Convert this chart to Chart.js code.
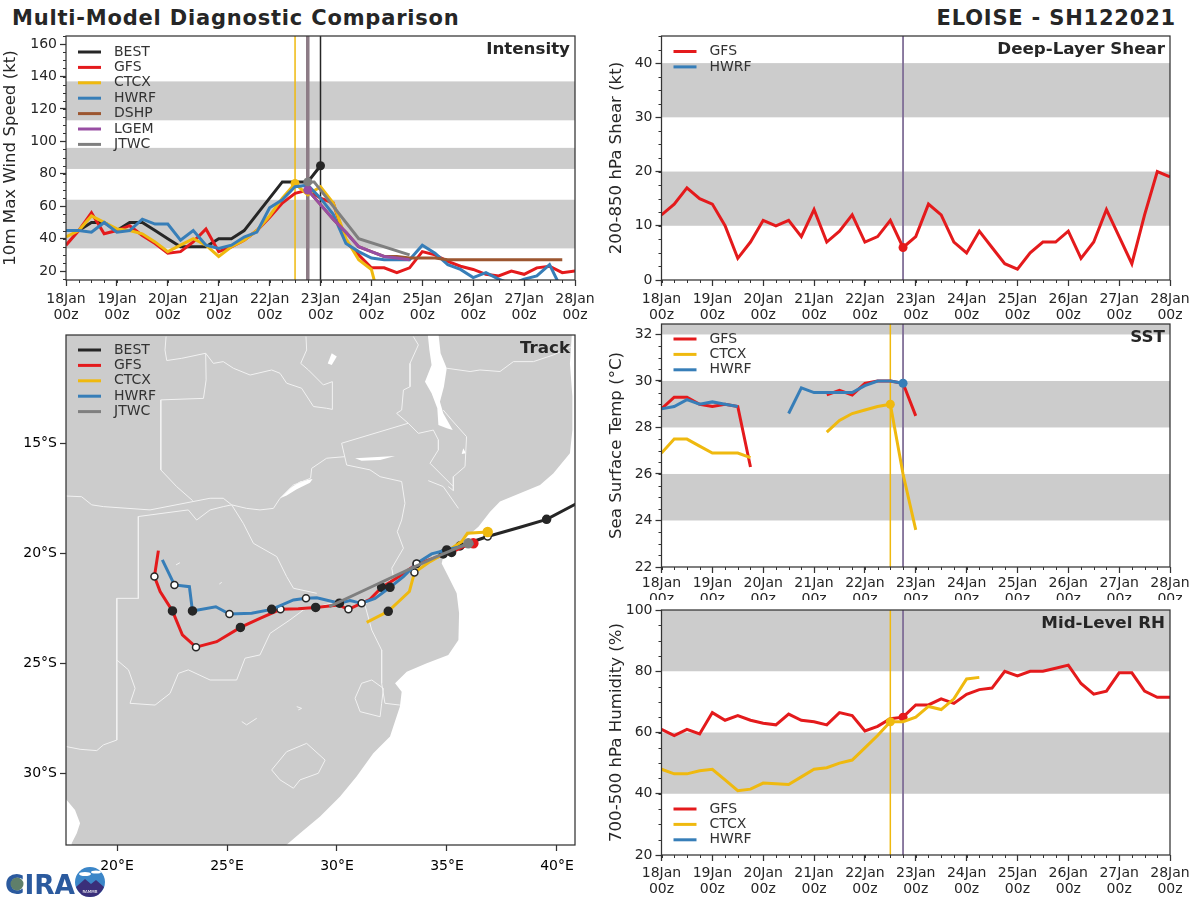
<!DOCTYPE html>
<html>
<head>
<meta charset="utf-8">
<title>ELOISE - SH122021</title>
<script src="https://cdn.jsdelivr.net/npm/chart.js@4"></script>
<style>
    html, body { margin: 0; padding: 0; background: #fff; }
    body { position: relative; width: 1200px; height: 900px; overflow: hidden; font-family: "DejaVu Sans", sans-serif; color: #262626; }
    canvas { position: absolute; }
    .head { position: absolute; top: 6px; font-size: 21px; font-weight: bold; letter-spacing: 0.8px; white-space: nowrap; }
    #logo { position: absolute; left: 0; top: 860px; }
</style>
</head>
<body>
<div class="head" style="left:12px">Multi-Model Diagnostic Comparison</div>
<div class="head" style="right:24px">ELOISE - SH122021</div>
<canvas id="intensityChart" width="610" height="305" style="left:0;top:20px"></canvas>
<canvas id="shearChart" width="600" height="305" style="left:600px;top:20px"></canvas>
<canvas id="trackChart" width="610" height="560" style="left:0;top:320px"></canvas>
<canvas id="sstChart" width="600" height="290" style="left:600px;top:310px"></canvas>
<canvas id="rhChart" width="600" height="305" style="left:600px;top:595px"></canvas>
<svg id="logo" width="110" height="40" viewBox="0 0 110 40">
    <text x="5" y="34" font-family="DejaVu Sans" font-weight="bold" font-size="27" fill="#2b5a9e" textLength="70" lengthAdjust="spacingAndGlyphs">CIRA</text>
    <circle cx="17" cy="24" r="6.5" fill="#5f7f6a"/>
    <circle cx="90" cy="22" r="15" fill="#3b86c8"/>
    <ellipse cx="85" cy="14" rx="6" ry="2" fill="#fff"/>
    <ellipse cx="96" cy="12" rx="5" ry="1.6" fill="#fff"/>
    <path d="M76 27 L85 19 L91 24 L96 20 L104 27 Q100 37 90 37 Q80 37 76 27 Z" fill="#3a2f7a"/>
    <text x="90" y="33" font-family="DejaVu Sans" font-size="4" fill="#fff" text-anchor="middle">RAMMB</text>
</svg>
<script>
// hours since 18Jan 00z, every 6 hours
const hours = [0, 6, 12, 18, 24, 30, 36, 42, 48, 54, 60, 66, 72, 78, 84, 90, 96, 102, 108, 114, 120,
    126, 132, 138, 144, 150, 156, 162, 168, 174, 180, 186, 192, 198, 204, 210, 216, 222, 228, 234, 240];
const dayTicks = [0, 24, 48, 72, 96, 120, 144, 168, 192, 216, 240];
const dayLabels = ['18Jan', '19Jan', '20Jan', '21Jan', '22Jan', '23Jan', '24Jan', '25Jan', '26Jan', '27Jan', '28Jan'];
const sixHourTicks = hours;

// Intensity (kt)
const bestIntensity = [45, 45, 50, 50, 45, 50, 50, 45, 40, 35, 35, 35, 40, 40, 45, 55, 65, 75, 75, 75, 85];
const gfsIntensity = [36, 45, 56, 43, 45, 48, 42, 37, 31, 32, 38, 46, 32, 35, 39, 45, 53, 62, 68, 70, 65,
    62, 38, 30, 22, 22, 19, 22, 32, 30, 26, 23, 21, 18, 17, 20, 18, 22, 23, 19, 20];
const ctcxIntensity = [41, 45, 54, 50, 46, 45, 43, 38, 32, 36, 40, 36, 29, 35, 39, 45, 54, 65, 74, 67, 72, 62, 40, 27, 21, -9];
const hwrfIntensity = [45, 45, 44, 50, 44, 45, 52, 49, 49, 39, 45, 36, 34, 36, 41, 44, 59, 64, 72, 73, 65,
    55, 37, 32, 28, 27, 27, 27, 36, 31, 24, 21, 16, 19, 15, 12, 15, 17, 24, 8];
const dshpHours = [114, 120, 126, 132, 138, 144, 150, 156, 162, 168, 174, 180, 186, 192, 198, 204, 210, 216, 222, 228, 234];
const dshpIntensity = [70, 61, 52, 44, 35, 32, 29, 29, 28, 28, 28, 27, 27, 27, 27, 27, 27, 27, 27, 27, 27];
const lgemHours = [114, 120, 126, 132, 138, 144, 150, 156, 162];
const lgemIntensity = [70, 61, 52, 44, 35, 32, 29, 28, 27];
const jtwcHours = [114, 117, 138, 162];
const jtwcIntensity = [75, 75, 40, 30];

// Shear (kt)
const gfsShear = [12, 14, 17, 15, 14, 10, 4, 7, 11, 10, 11, 8, 13, 7, 9, 12, 7, 8, 11, 6, 8,
    14, 12, 7, 5, 9, 6, 3, 2, 5, 7, 7, 9, 4, 7, 13, 8, 3, 12, 20, 19];
const hwrfShear = [];

// SST (C)
const gfsSst = [28.8, 29.3, 29.3, 29.0, 28.9, 29.0, 28.9, 26.3, null, null, null, null, null,
    29.4, 29.6, 29.4, 29.9, 30, 30, 29.9, 28.5];
const ctcxSst = [26.9, 27.5, 27.5, 27.2, 26.9, 26.9, 26.9, 26.7, null, null, null, null, null,
    27.8, 28.3, 28.6, 28.75, 28.9, 29.0, 26, 23.6];
const hwrfSst = [28.8, 28.9, 29.2, 29.0, 29.1, 29.0, 28.9, null, null, null,
    28.6, 29.7, 29.5, 29.5, 29.5, 29.5, 29.8, 30, 30, 29.9];

// Mid-level RH (%)
const gfsRh = [61, 59, 61, 59.5, 66.5, 64, 65.5, 64, 63, 62.5, 66, 64, 63.5, 62.5, 66.5, 65.5, 60.5, 62, 64.5, 65, 69,
    69, 71, 69.5, 72.5, 74, 74.5, 80, 78.5, 80, 80, 81, 82, 76, 72.5, 73.5, 79.5, 79.5, 73.5, 71.5, 71.5];
const ctcxRh = [48, 46.5, 46.5, 47.5, 48, 44.5, 41, 41.5, 43.5, 43.3, 43, 45.5, 48, 48.5, 50, 51, 55, 59, 63.5, 63.5, 65,
    68.5, 67.5, 71, 77.5, 78];
const hwrfRh = [];

// Tracks [lon, lat]
const bestTrack = [[40.85, -17.77], [39.53, -18.47], [38.32, -18.83], [36.85, -19.25], [35.59, -19.68]];
const gfsTrack = [[36.20, -19.56], [35.67, -19.74], [35.21, -19.97], [34.38, -20.24], [33.62, -20.50], [32.86, -21.04],
    [32.03, -21.56], [31.50, -22.10], [30.52, -22.56], [30.06, -22.36], [29.03, -22.47], [28.24, -22.53], [27.43, -22.56],
    [26.50, -22.97], [25.61, -23.38], [24.53, -24.03], [23.59, -24.28], [22.97, -23.72], [22.52, -22.63], [21.96, -21.75],
    [21.70, -21.07], [21.88, -19.89]];
const ctcxTrack = [[36.85, -19.04], [35.93, -19.10], [35.67, -19.48], [34.83, -20.04], [34.23, -20.39], [33.52, -20.89],
    [33.29, -21.75], [32.33, -22.65], [31.35, -23.15]];
const hwrfTrack = [[36.20, -19.56], [35.59, -19.71], [34.99, -19.86], [34.30, -20.04], [33.62, -20.47], [33.02, -21.07],
    [32.41, -21.56], [31.73, -22.06], [31.12, -22.28], [30.59, -22.16], [30.11, -22.28], [29.08, -22.03], [28.59, -22.06],
    [28.02, -22.13], [27.03, -22.56], [26.12, -22.74], [25.11, -22.77], [24.49, -22.44], [23.43, -22.63], [23.29, -21.53],
    [22.61, -21.45], [22.06, -20.31]];
const jtwcTrack = [[35.97, -19.56], [34.53, -20.16], [33.47, -20.65], [31.43, -21.60], [29.65, -22.44]];
// 0 none, 1 black dot, 2 white dot, 3 dot in the track colour
const bestMarks = [0, 1, 0, 2, 1];
const gfsMarks = [3, 0, 1, 0, 2, 0, 1, 0, 2, 0, 1, 0, 2, 0, 1, 0, 2, 0, 1, 0, 2, 0];
const ctcxMarks = [3, 0, 0, 1, 0, 2, 0, 1, 0];
const hwrfMarks = [0, 0, 1, 0, 2, 0, 1, 0, 2, 0, 1, 0, 2, 0, 1, 0, 2, 0, 1, 0, 2, 0];
const jtwcMarks = [3, 0, 0, 0, 0];

// Map outlines [lon, lat]
const landOutline = [[17, -10], [40.67, -10], [40.67, -10.13], [40.59, -11.38], [40.70, -12.89], [40.70, -14.41], [40.59, -15.47],
    [39.83, -16.38], [39.23, -16.91], [38.32, -17.28], [37.41, -17.66], [36.96, -18.12], [36.43, -18.80], [35.82, -19.33],
    [35.44, -19.71], [34.83, -20.16], [34.76, -20.47], [35.06, -21.07], [35.44, -21.83], [35.55, -22.74], [35.52, -23.95],
    [35.06, -24.63], [34.08, -25.01], [33.17, -25.39], [32.64, -25.92], [32.94, -26.30], [32.86, -26.98], [32.41, -28.34],
    [31.65, -29.10], [30.89, -30.16], [30.14, -31.07], [29.23, -31.98], [28.32, -32.74], [27.79, -33.19], [27.41, -33.5],
    [17.94, -33.5], [17.94, -33.19], [18.17, -32.74], [18.32, -32.28], [18.09, -31.68], [17.71, -31.22], [17, -30.9]];
const lakes = [
    [[34.12, -10], [34.61, -10], [34.71, -10.92], [34.99, -11.60], [34.86, -12.44], [34.68, -13.12], [34.83, -13.65], [35.26, -14.41],
     [34.99, -14.33], [34.61, -14.18], [34.56, -13.42], [34.30, -12.74], [34.00, -12.21], [34.30, -11.45], [34.20, -10.77]],
    [[27.41, -17.51], [27.86, -17.06], [28.32, -16.75], [28.89, -16.63], [28.77, -16.80], [28.17, -17.10], [27.71, -17.39]],
    [[30.82, -15.69], [32.64, -15.59], [31.96, -15.77], [31.12, -15.80]],
    [[29.76, -10.92], [29.99, -11.07], [29.76, -11.45], [29.58, -11.38]],
    [[35.74, -15.24], [35.86, -15.47], [35.67, -15.50]]
];
const borders = [
    [[22.23, -10.16], [22.18, -10.77], [22.26, -11.25], [22.94, -11.15], [24.03, -10.92], [24.38, -11.38], [24.83, -11.30], [25.29, -11.60],
     [26.05, -11.91], [27.03, -11.68], [27.41, -11.83], [27.71, -12.28], [28.39, -12.51], [28.93, -13.34], [29.53, -13.42], [29.79, -13.47],
     [29.79, -12.21], [29.38, -12.36], [28.70, -11.68], [28.35, -11.38], [28.62, -10.77], [28.59, -10.16]],
    [[24.03, -10.92], [24.05, -12.13], [23.93, -12.97], [21.99, -13.04], [21.99, -16.22], [22.71, -16.98], [23.44, -17.62]],
    [[34.99, -11.60], [36.05, -11.75], [36.50, -11.68], [37.41, -11.75], [38.02, -11.30], [38.93, -11.30], [39.83, -11.00], [40.67, -10.62]],
    [[33.47, -10.16], [33.70, -10.54], [33.32, -11.38], [33.32, -12.44], [33.02, -12.59], [32.94, -13.50], [32.71, -13.65], [33.24, -14.10],
     [33.70, -14.56], [34.38, -14.41], [34.61, -14.86], [34.61, -15.31], [34.23, -15.92], [35.29, -16.98], [35.29, -17.16], [35.06, -16.98]],
    [[34.83, -13.50], [35.21, -13.95], [35.89, -14.71], [35.82, -16.07], [35.29, -16.53], [35.29, -16.98]],
    [[33.24, -14.10], [30.21, -15.01], [30.44, -16.00], [31.50, -16.22], [31.96, -16.53], [32.94, -16.75], [33.09, -17.74], [32.94, -18.50],
     [32.74, -19.03], [33.02, -19.78], [32.49, -20.69], [32.56, -21.07], [31.27, -22.36], [31.58, -23.50], [32.03, -24.41], [32.03, -25.92],
     [32.18, -26.83], [32.86, -26.91]],
    [[30.36, -15.62], [29.53, -15.69], [28.85, -16.15], [28.80, -16.60], [28.02, -16.91], [27.41, -17.51], [27.11, -17.97], [26.50, -18.04],
     [25.89, -17.97], [25.21, -17.81], [24.83, -17.51], [24.23, -17.51], [21.50, -18.04], [19.38, -17.89], [18.85, -17.81], [18.39, -17.44],
     [17.71, -17.41], [17, -17.41]],
    [[25.21, -17.81], [24.83, -17.89], [24.23, -18.04], [23.62, -18.50], [23.24, -18.04], [20.97, -18.34], [20.97, -22.06], [19.99, -22.06],
     [19.99, -28.50], [19.38, -28.72], [19.08, -28.98], [18.32, -28.92], [17.71, -28.80], [17, -28.77]],
    [[25.21, -17.81], [25.74, -18.65], [26.20, -19.56], [27.26, -20.16], [27.71, -21.07], [28.02, -21.60], [29.08, -21.83]],
    [[19.99, -24.86], [20.52, -25.31], [20.82, -26.15], [20.59, -26.83], [21.73, -26.91], [22.41, -26.38], [22.79, -25.47], [23.24, -25.31],
     [24.23, -25.77], [25.44, -25.77], [25.82, -24.78], [26.50, -24.63], [26.96, -23.65], [27.86, -23.04], [28.47, -22.59], [29.00, -22.47],
     [29.99, -22.21], [31.27, -22.13]],
    [[31.12, -25.92], [31.58, -25.77], [32.11, -26.15], [32.03, -26.83], [31.96, -27.44], [31.05, -27.21], [30.82, -26.60], [31.12, -25.92]],
    [[27.03, -29.86], [27.71, -29.03], [28.62, -28.65], [29.46, -29.41], [29.15, -30.01], [28.32, -30.31], [28.02, -30.69], [27.41, -30.31], [27.03, -29.86]],
    [[34.15, -16.71], [34.83, -16.98], [35.52, -17.97]],
    [[22.68, -20.54], [22.86, -20.44]],
    [[24.65, -21.41], [24.76, -21.33]],
    [[25.67, -27.66], [25.89, -27.81], [26.35, -27.51]],
    [[28.17, -26.98], [28.39, -27.06], [28.24, -27.13]]
];

// axis ticks
const intensityTicks = [20, 40, 60, 80, 100, 120, 140, 160];
const shearTicks = [0, 10, 20, 30, 40];
const sstTicks = [22, 24, 26, 28, 30, 32];
const rhTicks = [20, 40, 60, 80, 100];
const lonTicks = [20, 25, 30, 35, 40];
const latTicks = [-15, -20, -25, -30];

// gray bands
const intensityBands = [[34, 64], [83, 96], [113, 137]];
const shearBands = [[10, 20], [30, 40]];
const sstBands = [[24, 26], [28, 30], [32, 33]];
const rhBands = [[40, 60], [80, 100]];

const COLORS = { BEST: '#262626', GFS: '#e41a1c', CTCX: '#efb90f', HWRF: '#377eb8', DSHP: '#9c5630', LGEM: '#984ea3', JTWC: '#7f7f7f' };
const BAND = '#cccccc';
const INK = '#333333';
const STORM_LINE = '#7d6a94';
const FONT = '"DejaVu Sans", sans-serif';

function series(name, ys, xs, dotIndex) {
    xs = xs || hours;
    return {
        label: name,
        data: ys.map((y, i) => ({ x: xs[i], y: y })),
        borderColor: COLORS[name],
        backgroundColor: COLORS[name],
        borderWidth: 3,
        pointRadius: c => c.dataIndex === dotIndex ? 4.5 : 0,
        pointBorderWidth: 0
    };
}

function trackSeries(name, coords, marks) {
    return {
        label: name,
        data: coords.map(p => ({ x: p[0], y: p[1] })),
        borderColor: COLORS[name],
        backgroundColor: COLORS[name],
        borderWidth: 3,
        pointRadius: c => [0, 4, 3.5, 4.5][marks[c.dataIndex]],
        pointBackgroundColor: c => ['', '#262626', '#ffffff', COLORS[name]][marks[c.dataIndex]],
        pointBorderColor: c => marks[c.dataIndex] === 3 ? COLORS[name] : '#262626',
        pointBorderWidth: 1.5
    };
}

// bands and storm-time lines behind the data, frame/legend/name on top
const panelDecor = {
    id: 'panelDecor',
    beforeDatasetsDraw(chart, args, opts) {
        const { ctx, chartArea: a, scales: { x, y } } = chart;
        ctx.save();
        ctx.beginPath();
        ctx.rect(a.left, a.top, a.width, a.height);
        ctx.clip();
        ctx.fillStyle = BAND;
        (opts.bands || []).forEach(b => {
            const top = y.getPixelForValue(b[1]);
            ctx.fillRect(a.left, top, a.width, y.getPixelForValue(b[0]) - top);
        });
        (opts.vlines || []).forEach(v => {
            const px = x.getPixelForValue(v[0]);
            ctx.strokeStyle = v[1];
            ctx.lineWidth = v[2];
            ctx.beginPath();
            ctx.moveTo(px, a.top);
            ctx.lineTo(px, a.bottom);
            ctx.stroke();
        });
        ctx.restore();
    },
    afterDatasetsDraw(chart, args, opts) {
        const { ctx, chartArea: a, scales: { x, y } } = chart;
        ctx.save();
        // minor ticks
        ctx.strokeStyle = INK;
        ctx.lineWidth = 1;
        (opts.minorX || []).forEach(v => {
            const px = Math.round(x.getPixelForValue(v)) + 0.5;
            ctx.beginPath(); ctx.moveTo(px, a.bottom); ctx.lineTo(px, a.bottom + 3); ctx.stroke();
        });
        for (let v = y.min - y.min % (opts.minorY || 1); opts.minorY && v <= y.max; v += opts.minorY) {
            if (v < y.min) continue;
            const py = Math.round(y.getPixelForValue(v)) + 0.5;
            ctx.beginPath(); ctx.moveTo(a.left, py); ctx.lineTo(a.left - 3, py); ctx.stroke();
        }
        // frame
        ctx.strokeStyle = INK;
        ctx.lineWidth = 1.25;
        ctx.strokeRect(a.left, a.top, a.width, a.height);
        // legend
        ctx.font = '14px ' + FONT;
        ctx.textBaseline = 'middle';
        ctx.textAlign = 'left';
        (opts.legend || []).forEach((name, i) => {
            const ly = a.top + opts.legendTop + i * 15.4;
            ctx.strokeStyle = COLORS[name];
            ctx.lineWidth = 3;
            ctx.beginPath();
            ctx.moveTo(a.left + 12, ly);
            ctx.lineTo(a.left + 35, ly);
            ctx.stroke();
            ctx.fillStyle = INK;
            ctx.fillText(name, a.left + 48, ly);
        });
        // panel name
        ctx.font = 'bold 16.7px ' + FONT;
        ctx.textAlign = 'right';
        ctx.fillStyle = '#262626';
        ctx.fillText(opts.name, a.right - 5, a.top + 13.5);
        ctx.restore();
    }
};

function makePanel(id, area, size, cfg) {
    new Chart(document.getElementById(id).getContext('2d'), {
        type: 'line',
        data: { datasets: cfg.datasets.map((d, i) => Object.assign({ order: cfg.datasets.length - i }, d)) },
        plugins: [panelDecor],
        options: {
            responsive: false,
            animation: false,
            layout: { padding: { left: 0, top: area.top, right: size.w - area.right, bottom: 0 } },
            plugins: {
                legend: { display: false },
                tooltip: { enabled: false },
                panelDecor: cfg.decor
            },
            scales: {
                x: {
                    type: 'linear', min: cfg.xMin, max: cfg.xMax,
                    afterBuildTicks: s => { s.ticks = cfg.xTicks.map(v => ({ value: v })); },
                    afterFit: s => { s.height = size.h - area.bottom; },
                    grid: { drawOnChartArea: false, tickLength: cfg.tickLength, tickColor: INK, tickWidth: 1.25 },
                    border: { display: false },
                    ticks: {
                        autoSkip: false, maxRotation: 0, padding: cfg.xPad, color: cfg.tickColor,
                        font: { family: FONT, size: 14, lineHeight: 1.1 },
                        callback: cfg.xLabel
                    }
                },
                y: {
                    type: 'linear', min: cfg.yMin, max: cfg.yMax,
                    afterBuildTicks: s => { s.ticks = cfg.yTicks.map(v => ({ value: v })); },
                    afterFit: s => { s.width = area.left; },
                    grid: { drawOnChartArea: false, tickLength: cfg.tickLength, tickColor: INK, tickWidth: 1.25 },
                    border: { display: false },
                    title: cfg.yTitle ? { display: true, text: cfg.yTitle, color: '#262626', padding: { top: cfg.titlePad, bottom: 0 }, font: { family: FONT, size: 16.6 } } : { display: false },
                    ticks: { autoSkip: false, padding: 3, color: cfg.tickColor, font: { family: FONT, size: 14 }, callback: cfg.yLabel }
                }
            }
        }
    });
}

const timeLabel = v => [dayLabels[dayTicks.indexOf(v)], '00z'];
const timeAxes = { xMin: 0, xMax: 240, xTicks: dayTicks, xLabel: timeLabel, xPad: 6, tickLength: 6, tickColor: '#262626' };

makePanel('intensityChart', { left: 66, top: 16, right: 575, bottom: 260 }, { w: 610, h: 305 }, Object.assign({}, timeAxes, {
    yMin: 14.5, yMax: 165, yTicks: intensityTicks, yTitle: '10m Max Wind Speed (kt)', titlePad: 1,
    decor: {
        name: 'Intensity', bands: intensityBands, minorX: sixHourTicks, minorY: 5,
        legend: ['BEST', 'GFS', 'CTCX', 'HWRF', 'DSHP', 'LGEM', 'JTWC'], legendTop: 16,
        vlines: [[108, COLORS.CTCX, 1.5], [114, '#8d7c86', 3.5], [120, COLORS.BEST, 1.5]]
    },
    datasets: [
        series('BEST', bestIntensity, hours, 20),
        series('GFS', gfsIntensity),
        series('CTCX', ctcxIntensity, hours, 18),
        series('HWRF', hwrfIntensity),
        series('DSHP', dshpIntensity, dshpHours),
        series('LGEM', lgemIntensity, lgemHours, 0),
        series('JTWC', jtwcIntensity, jtwcHours, 0)
    ]
}));

makePanel('shearChart', { left: 61.5, top: 16, right: 570, bottom: 260 }, { w: 600, h: 305 }, Object.assign({}, timeAxes, {
    yMin: 0, yMax: 45, yTicks: shearTicks, yTitle: '200-850 hPa Shear (kt)', titlePad: 7,
    decor: {
        name: 'Deep-Layer Shear', bands: shearBands, minorX: sixHourTicks, minorY: 2.5,
        legend: ['GFS', 'HWRF'], legendTop: 15.5,
        vlines: [[114, STORM_LINE, 1.75]]
    },
    datasets: [series('GFS', gfsShear, hours, 19), series('HWRF', hwrfShear)]
}));

makePanel('sstChart', { left: 61.5, top: 14, right: 570, bottom: 257 }, { w: 600, h: 290 }, Object.assign({}, timeAxes, {
    yMin: 22, yMax: 32.45, yTicks: sstTicks, yTitle: 'Sea Surface Temp (°C)', titlePad: 7, xPad: 3,
    decor: {
        name: 'SST', bands: sstBands, minorX: sixHourTicks, minorY: 0.5,
        legend: ['GFS', 'CTCX', 'HWRF'], legendTop: 15,
        vlines: [[108, COLORS.CTCX, 1.5], [114, STORM_LINE, 1.75]]
    },
    datasets: [series('GFS', gfsSst), series('CTCX', ctcxSst, hours, 18), series('HWRF', hwrfSst, hours, 19)]
}));

makePanel('rhChart', { left: 61.5, top: 15, right: 570, bottom: 260 }, { w: 600, h: 305 }, Object.assign({}, timeAxes, {
    yMin: 20, yMax: 100, yTicks: rhTicks, yTitle: '700-500 hPa Humidity (%)', titlePad: 7, xPad: 5,
    decor: {
        name: 'Mid-Level RH', bands: rhBands, minorX: sixHourTicks, minorY: 5,
        legend: ['GFS', 'CTCX', 'HWRF'], legendTop: 199,
        vlines: [[108, COLORS.CTCX, 1.5], [114, STORM_LINE, 1.75]]
    },
    datasets: [series('GFS', gfsRh, hours, 19), series('CTCX', ctcxRh, hours, 18), series('HWRF', hwrfRh)]
}));

const mapShape = (coords, color) => ({
    data: coords.map(p => ({ x: p[0], y: p[1] })),
    fill: 'shape', backgroundColor: color, borderWidth: 0, pointRadius: 0
});
const borderLine = coords => ({
    data: coords.map(p => ({ x: p[0], y: p[1] })),
    borderColor: '#f2f2f2', borderWidth: 1, pointRadius: 0
});

makePanel('trackChart', { left: 66, top: 15, right: 575, bottom: 525 }, { w: 610, h: 560 }, {
    xMin: 17.68, xMax: 40.82, xTicks: lonTicks, xPad: 8, tickLength: 6, tickColor: '#000000',
    xLabel: v => v + '°E',
    yMin: -33.27, yMax: -10.09, yTicks: latTicks, yLabel: v => Math.abs(v) + '°S', titlePad: 0,
    decor: { name: 'Track', legend: ['BEST', 'GFS', 'CTCX', 'HWRF', 'JTWC'], legendTop: 15 },
    datasets: [
        mapShape(landOutline, BAND),
        ...lakes.map(l => mapShape(l, '#ffffff')),
        ...borders.map(borderLine),
        trackSeries('BEST', bestTrack, bestMarks),
        trackSeries('GFS', gfsTrack, gfsMarks),
        trackSeries('CTCX', ctcxTrack, ctcxMarks),
        trackSeries('HWRF', hwrfTrack, hwrfMarks),
        trackSeries('JTWC', jtwcTrack, jtwcMarks)
    ]
});
</script>
</body>
</html>
